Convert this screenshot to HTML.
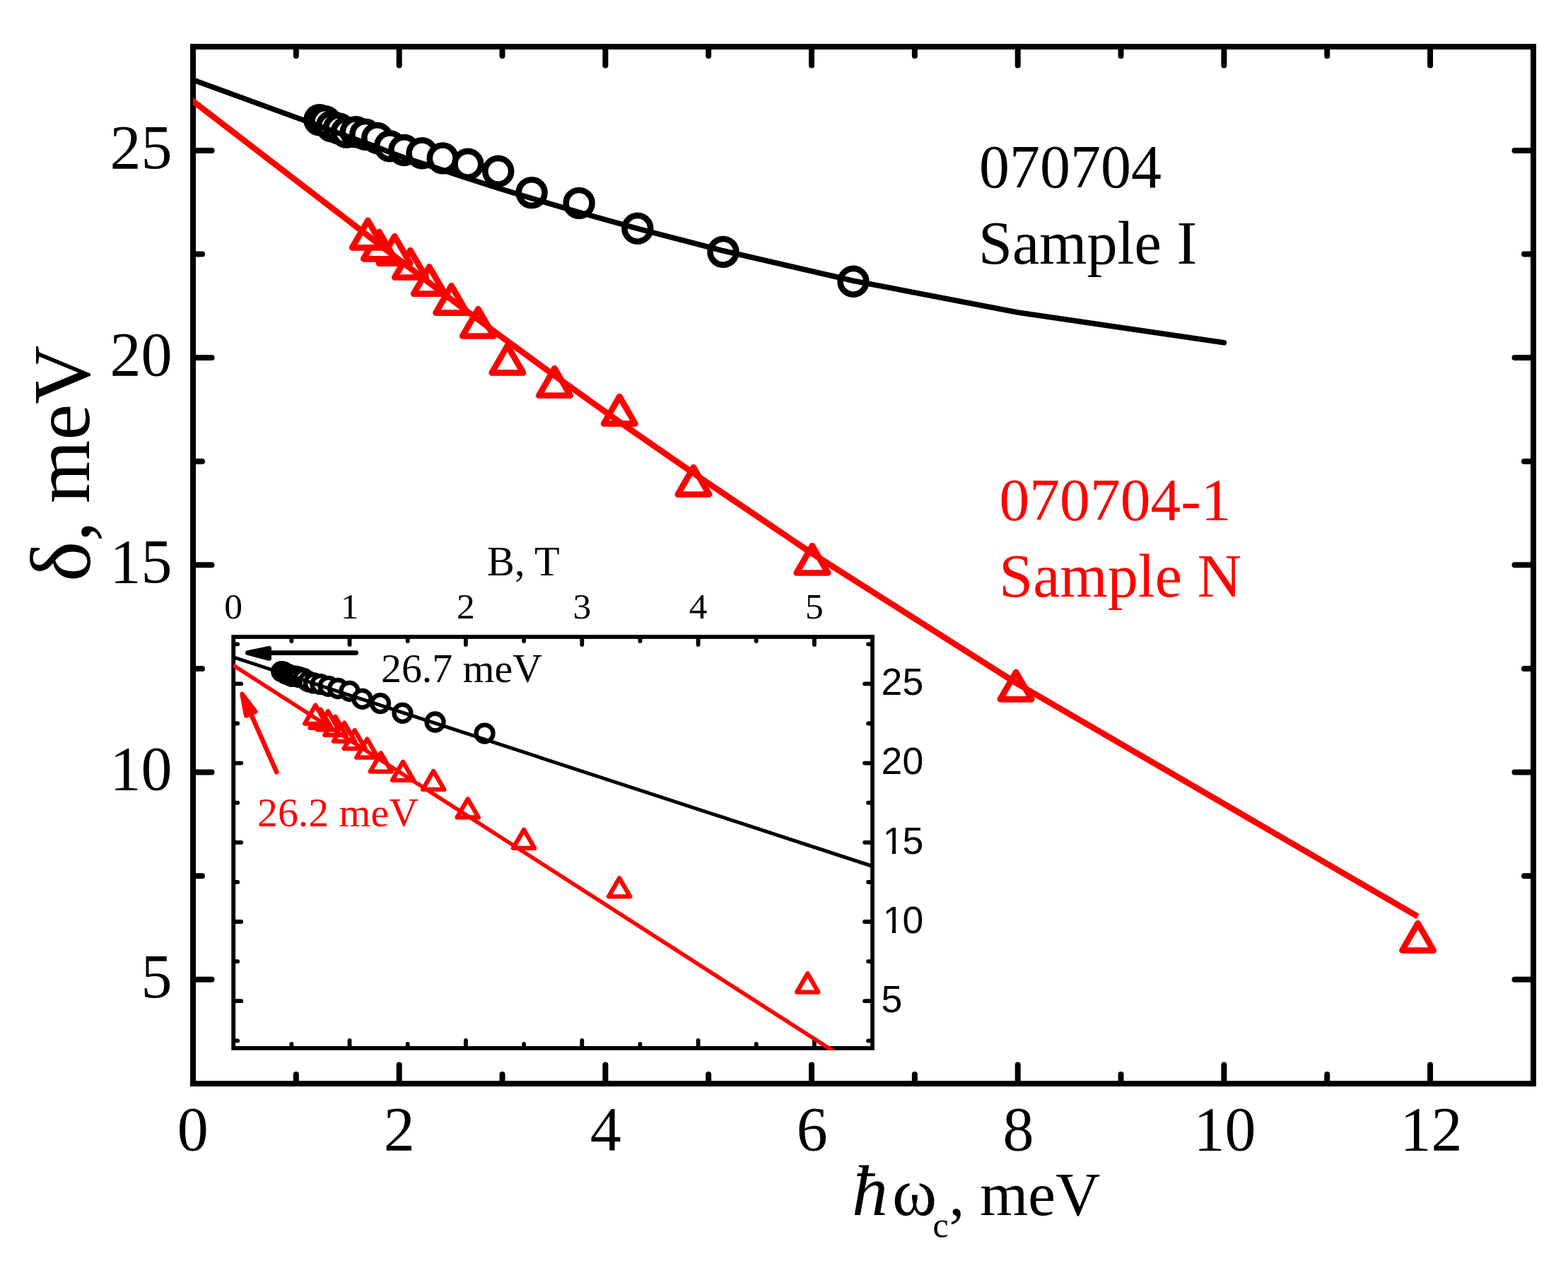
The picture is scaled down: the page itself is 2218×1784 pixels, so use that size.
<!DOCTYPE html>
<html lang="en"><head><meta charset="utf-8"><title>δ vs ħω_c</title>
<style>html,body{margin:0;padding:0;background:#fff;}body{width:2218px;height:1784px;overflow:hidden;}svg{display:block;}text{white-space:pre;}</style>
</head><body>
<svg xmlns="http://www.w3.org/2000/svg" width="2218" height="1784" viewBox="0 0 2218 1784">
<rect x="0" y="0" width="2218" height="1784" fill="#fff"/>
<g id="main-ticks">
<line x1="418.84" y1="1531.1" x2="418.84" y2="1520.1" stroke="#000" stroke-width="8" stroke-linecap="round"/>
<line x1="418.84" y1="68" x2="418.84" y2="79" stroke="#000" stroke-width="8" stroke-linecap="round"/>
<line x1="564.68" y1="1531.1" x2="564.68" y2="1506.6" stroke="#000" stroke-width="8" stroke-linecap="round"/>
<line x1="564.68" y1="68" x2="564.68" y2="92.5" stroke="#000" stroke-width="8" stroke-linecap="round"/>
<line x1="710.52" y1="1531.1" x2="710.52" y2="1520.1" stroke="#000" stroke-width="8" stroke-linecap="round"/>
<line x1="710.52" y1="68" x2="710.52" y2="79" stroke="#000" stroke-width="8" stroke-linecap="round"/>
<line x1="856.36" y1="1531.1" x2="856.36" y2="1506.6" stroke="#000" stroke-width="8" stroke-linecap="round"/>
<line x1="856.36" y1="68" x2="856.36" y2="92.5" stroke="#000" stroke-width="8" stroke-linecap="round"/>
<line x1="1002.2" y1="1531.1" x2="1002.2" y2="1520.1" stroke="#000" stroke-width="8" stroke-linecap="round"/>
<line x1="1002.2" y1="68" x2="1002.2" y2="79" stroke="#000" stroke-width="8" stroke-linecap="round"/>
<line x1="1148.04" y1="1531.1" x2="1148.04" y2="1506.6" stroke="#000" stroke-width="8" stroke-linecap="round"/>
<line x1="1148.04" y1="68" x2="1148.04" y2="92.5" stroke="#000" stroke-width="8" stroke-linecap="round"/>
<line x1="1293.88" y1="1531.1" x2="1293.88" y2="1520.1" stroke="#000" stroke-width="8" stroke-linecap="round"/>
<line x1="1293.88" y1="68" x2="1293.88" y2="79" stroke="#000" stroke-width="8" stroke-linecap="round"/>
<line x1="1439.72" y1="1531.1" x2="1439.72" y2="1506.6" stroke="#000" stroke-width="8" stroke-linecap="round"/>
<line x1="1439.72" y1="68" x2="1439.72" y2="92.5" stroke="#000" stroke-width="8" stroke-linecap="round"/>
<line x1="1585.56" y1="1531.1" x2="1585.56" y2="1520.1" stroke="#000" stroke-width="8" stroke-linecap="round"/>
<line x1="1585.56" y1="68" x2="1585.56" y2="79" stroke="#000" stroke-width="8" stroke-linecap="round"/>
<line x1="1731.4" y1="1531.1" x2="1731.4" y2="1506.6" stroke="#000" stroke-width="8" stroke-linecap="round"/>
<line x1="1731.4" y1="68" x2="1731.4" y2="92.5" stroke="#000" stroke-width="8" stroke-linecap="round"/>
<line x1="1877.24" y1="1531.1" x2="1877.24" y2="1520.1" stroke="#000" stroke-width="8" stroke-linecap="round"/>
<line x1="1877.24" y1="68" x2="1877.24" y2="79" stroke="#000" stroke-width="8" stroke-linecap="round"/>
<line x1="2023.08" y1="1531.1" x2="2023.08" y2="1506.6" stroke="#000" stroke-width="8" stroke-linecap="round"/>
<line x1="2023.08" y1="68" x2="2023.08" y2="92.5" stroke="#000" stroke-width="8" stroke-linecap="round"/>
<line x1="275" y1="1385.8" x2="299.5" y2="1385.8" stroke="#000" stroke-width="8" stroke-linecap="round"/>
<line x1="2167" y1="1385.8" x2="2142.5" y2="1385.8" stroke="#000" stroke-width="8" stroke-linecap="round"/>
<line x1="275" y1="1239.19" x2="286" y2="1239.19" stroke="#000" stroke-width="8" stroke-linecap="round"/>
<line x1="2167" y1="1239.19" x2="2156" y2="1239.19" stroke="#000" stroke-width="8" stroke-linecap="round"/>
<line x1="275" y1="1092.57" x2="299.5" y2="1092.57" stroke="#000" stroke-width="8" stroke-linecap="round"/>
<line x1="2167" y1="1092.57" x2="2142.5" y2="1092.57" stroke="#000" stroke-width="8" stroke-linecap="round"/>
<line x1="275" y1="945.96" x2="286" y2="945.96" stroke="#000" stroke-width="8" stroke-linecap="round"/>
<line x1="2167" y1="945.96" x2="2156" y2="945.96" stroke="#000" stroke-width="8" stroke-linecap="round"/>
<line x1="275" y1="799.35" x2="299.5" y2="799.35" stroke="#000" stroke-width="8" stroke-linecap="round"/>
<line x1="2167" y1="799.35" x2="2142.5" y2="799.35" stroke="#000" stroke-width="8" stroke-linecap="round"/>
<line x1="275" y1="652.74" x2="286" y2="652.74" stroke="#000" stroke-width="8" stroke-linecap="round"/>
<line x1="2167" y1="652.74" x2="2156" y2="652.74" stroke="#000" stroke-width="8" stroke-linecap="round"/>
<line x1="275" y1="506.12" x2="299.5" y2="506.12" stroke="#000" stroke-width="8" stroke-linecap="round"/>
<line x1="2167" y1="506.12" x2="2142.5" y2="506.12" stroke="#000" stroke-width="8" stroke-linecap="round"/>
<line x1="275" y1="359.51" x2="286" y2="359.51" stroke="#000" stroke-width="8" stroke-linecap="round"/>
<line x1="2167" y1="359.51" x2="2156" y2="359.51" stroke="#000" stroke-width="8" stroke-linecap="round"/>
<line x1="275" y1="212.9" x2="299.5" y2="212.9" stroke="#000" stroke-width="8" stroke-linecap="round"/>
<line x1="2167" y1="212.9" x2="2142.5" y2="212.9" stroke="#000" stroke-width="8" stroke-linecap="round"/>
</g>
<rect x="273" y="66" width="1896" height="1467.1" fill="none" stroke="#000" stroke-width="8"/>
<g id="main-data">
<circle cx="451.9" cy="169.7" r="18.4" fill="#fff" stroke="#000" stroke-width="8.6"/>
<circle cx="459.9" cy="171.6" r="18.4" fill="#fff" stroke="#000" stroke-width="8.6"/>
<circle cx="469.1" cy="178.8" r="18.4" fill="#fff" stroke="#000" stroke-width="8.6"/>
<circle cx="479.4" cy="181.9" r="18.4" fill="#fff" stroke="#000" stroke-width="8.6"/>
<circle cx="490.1" cy="187.1" r="18.4" fill="#fff" stroke="#000" stroke-width="8.6"/>
<circle cx="503.3" cy="186.8" r="18.4" fill="#fff" stroke="#000" stroke-width="8.6"/>
<circle cx="516.8" cy="190.3" r="18.4" fill="#fff" stroke="#000" stroke-width="8.6"/>
<circle cx="533.7" cy="195.5" r="18.4" fill="#fff" stroke="#000" stroke-width="8.6"/>
<circle cx="551.5" cy="206.8" r="18.4" fill="#fff" stroke="#000" stroke-width="8.6"/>
<circle cx="571.8" cy="212.5" r="18.4" fill="#fff" stroke="#000" stroke-width="8.6"/>
<circle cx="597" cy="216.8" r="18.4" fill="#fff" stroke="#000" stroke-width="8.6"/>
<circle cx="626.2" cy="223.9" r="18.4" fill="#fff" stroke="#000" stroke-width="8.6"/>
<circle cx="661.8" cy="232.3" r="18.4" fill="#fff" stroke="#000" stroke-width="8.6"/>
<circle cx="704.7" cy="242.3" r="18.4" fill="#fff" stroke="#000" stroke-width="8.6"/>
<circle cx="752.1" cy="272.6" r="18.4" fill="#fff" stroke="#000" stroke-width="8.6"/>
<circle cx="819.1" cy="287.4" r="18.4" fill="#fff" stroke="#000" stroke-width="8.6"/>
<circle cx="901.8" cy="323.3" r="18.4" fill="#fff" stroke="#000" stroke-width="8.6"/>
<circle cx="1023" cy="356.4" r="18.4" fill="#fff" stroke="#000" stroke-width="8.6"/>
<circle cx="1207" cy="398.3" r="18.4" fill="#fff" stroke="#000" stroke-width="8.6"/>
<polygon points="1983.45,1344.6 2027.75,1344.6 2005.6,1306.24" fill="#fff" stroke="#f00" stroke-width="8.7" stroke-linejoin="round"/>
<polygon points="1414.95,989.3 1459.25,989.3 1437.1,950.94" fill="#fff" stroke="#f00" stroke-width="8.7" stroke-linejoin="round"/>
<polygon points="1126.85,810.5 1171.15,810.5 1149,772.14" fill="#fff" stroke="#f00" stroke-width="8.7" stroke-linejoin="round"/>
<polygon points="958.85,699.5 1003.15,699.5 981,661.14" fill="#fff" stroke="#f00" stroke-width="8.7" stroke-linejoin="round"/>
<polygon points="854.15,599.4 898.45,599.4 876.3,561.04" fill="#fff" stroke="#f00" stroke-width="8.7" stroke-linejoin="round"/>
<polygon points="762.35,559.5 806.65,559.5 784.5,521.14" fill="#fff" stroke="#f00" stroke-width="8.7" stroke-linejoin="round"/>
<polygon points="695.75,527.4 740.05,527.4 717.9,489.04" fill="#fff" stroke="#f00" stroke-width="8.7" stroke-linejoin="round"/>
<polygon points="654.25,475.5 698.55,475.5 676.4,437.14" fill="#fff" stroke="#f00" stroke-width="8.7" stroke-linejoin="round"/>
<polygon points="616.45,442.6 660.75,442.6 638.6,404.24" fill="#fff" stroke="#f00" stroke-width="8.7" stroke-linejoin="round"/>
<polygon points="585.15,415.7 629.45,415.7 607.3,377.34" fill="#fff" stroke="#f00" stroke-width="8.7" stroke-linejoin="round"/>
<polygon points="558.35,392.5 602.65,392.5 580.5,354.14" fill="#fff" stroke="#f00" stroke-width="8.7" stroke-linejoin="round"/>
<polygon points="536.05,372.6 580.35,372.6 558.2,334.24" fill="#fff" stroke="#f00" stroke-width="8.7" stroke-linejoin="round"/>
<polygon points="514.25,366.3 558.55,366.3 536.4,327.94" fill="#fff" stroke="#f00" stroke-width="8.7" stroke-linejoin="round"/>
<polygon points="498.25,350.3 542.55,350.3 520.4,311.94" fill="#fff" stroke="#f00" stroke-width="8.7" stroke-linejoin="round"/>
<clipPath id="mc"><rect x="273" y="66" width="1896" height="1467.1"/></clipPath>
<g clip-path="url(#mc)">
<polyline points="261,108.65 273,113.03 451.9,178.28 459.9,181.28 469.1,184.7 479.4,188.52 490.1,192.46 503.3,197.28 516.8,202.18 533.7,208.26 551.5,215.46 571.8,223.08 597,231.15 626.2,240.62 661.8,252.38 704.7,266.16 752.1,280.65 819.1,300.32 901.8,323.39 1023,354.81 1207,397.22 1439.72,442.02 1731.4,484.8" fill="none" stroke="#000" stroke-width="7.6" stroke-linecap="round" stroke-linejoin="round" />
<polyline points="261,133.84 273,143.08 520.4,333.48 536.4,345.87 558.2,362.66 580.5,379.74 607.3,400.13 638.6,423.77 676.4,452.06 717.9,482.78 784.5,531.34 876.3,596.96 981,669.6 1149,783.11 1437.1,966.16 2005.6,1296.69" fill="none" stroke="#f00" stroke-width="8.5" stroke-linecap="butt" stroke-linejoin="round" />
</g>
</g>
<g id="main-labels">
<text x="272.7" y="1627.2" font-size="88" text-anchor="middle" fill="#000" font-family="&quot;Liberation Serif&quot;, serif" >0</text>
<text x="564.68" y="1627.2" font-size="88" text-anchor="middle" fill="#000" font-family="&quot;Liberation Serif&quot;, serif" >2</text>
<text x="856.66" y="1627.2" font-size="88" text-anchor="middle" fill="#000" font-family="&quot;Liberation Serif&quot;, serif" >4</text>
<text x="1148.64" y="1627.2" font-size="88" text-anchor="middle" fill="#000" font-family="&quot;Liberation Serif&quot;, serif" >6</text>
<text x="1440.62" y="1627.2" font-size="88" text-anchor="middle" fill="#000" font-family="&quot;Liberation Serif&quot;, serif" >8</text>
<text x="1732.6" y="1627.2" font-size="88" text-anchor="middle" fill="#000" font-family="&quot;Liberation Serif&quot;, serif" >10</text>
<text x="2024.58" y="1627.2" font-size="88" text-anchor="middle" fill="#000" font-family="&quot;Liberation Serif&quot;, serif" >12</text>
<text x="243.5" y="1410.6" font-size="88" text-anchor="end" fill="#000" font-family="&quot;Liberation Serif&quot;, serif" >5</text>
<text x="243.5" y="1117.37" font-size="88" text-anchor="end" fill="#000" font-family="&quot;Liberation Serif&quot;, serif" >10</text>
<text x="243.5" y="824.15" font-size="88" text-anchor="end" fill="#000" font-family="&quot;Liberation Serif&quot;, serif" >15</text>
<text x="243.5" y="530.92" font-size="88" text-anchor="end" fill="#000" font-family="&quot;Liberation Serif&quot;, serif" >20</text>
<text x="243.5" y="237.7" font-size="88" text-anchor="end" fill="#000" font-family="&quot;Liberation Serif&quot;, serif" >25</text>
</g>
<g id="ytitle" fill="#000" font-family="&quot;Liberation Serif&quot;, serif">
<text transform="translate(126.5,823) rotate(-90)" font-size="121.6">δ</text>
<text transform="translate(126.5,766) rotate(-90)" font-size="115">,</text>
<text transform="translate(126.0,712.3) rotate(-90)" font-size="115">meV</text>
</g>
<text x="1205" y="1719.4" font-size="87.5" fill="#000" font-family="&quot;Liberation Serif&quot;, serif"><tspan font-style="italic" font-size="102">ħ</tspan><tspan x="1262" font-size="96">ω</tspan><tspan font-size="50" dy="31" x="1319.5">c</tspan><tspan dy="-31" x="1342.5" font-size="87.5">, meV</tspan></text>
<text x="1385" y="265.4" font-size="86" text-anchor="start" fill="#000" font-family="&quot;Liberation Serif&quot;, serif" >070704</text>
<text x="1384" y="373.4" font-size="86.3" text-anchor="start" fill="#000" font-family="&quot;Liberation Serif&quot;, serif" >Sample I</text>
<text x="1413.5" y="736.1" font-size="85.6" text-anchor="start" fill="#f00" font-family="&quot;Liberation Serif&quot;, serif" >070704-1</text>
<text x="1413.3" y="844.1" font-size="86.3" text-anchor="start" fill="#f00" font-family="&quot;Liberation Serif&quot;, serif" >Sample N</text>
<g id="inset">
<g id="inset-ticks">
<line x1="412.38" y1="902.5" x2="412.38" y2="907" stroke="#000" stroke-width="5.8" stroke-linecap="round"/>
<line x1="412.38" y1="1481.4" x2="412.38" y2="1476.9" stroke="#000" stroke-width="5.8" stroke-linecap="round"/>
<line x1="494.55" y1="902.5" x2="494.55" y2="912" stroke="#000" stroke-width="5.8" stroke-linecap="round"/>
<line x1="494.55" y1="1481.4" x2="494.55" y2="1471.9" stroke="#000" stroke-width="5.8" stroke-linecap="round"/>
<line x1="576.72" y1="902.5" x2="576.72" y2="907" stroke="#000" stroke-width="5.8" stroke-linecap="round"/>
<line x1="576.72" y1="1481.4" x2="576.72" y2="1476.9" stroke="#000" stroke-width="5.8" stroke-linecap="round"/>
<line x1="658.9" y1="902.5" x2="658.9" y2="912" stroke="#000" stroke-width="5.8" stroke-linecap="round"/>
<line x1="658.9" y1="1481.4" x2="658.9" y2="1471.9" stroke="#000" stroke-width="5.8" stroke-linecap="round"/>
<line x1="741.08" y1="902.5" x2="741.08" y2="907" stroke="#000" stroke-width="5.8" stroke-linecap="round"/>
<line x1="741.08" y1="1481.4" x2="741.08" y2="1476.9" stroke="#000" stroke-width="5.8" stroke-linecap="round"/>
<line x1="823.25" y1="902.5" x2="823.25" y2="912" stroke="#000" stroke-width="5.8" stroke-linecap="round"/>
<line x1="823.25" y1="1481.4" x2="823.25" y2="1471.9" stroke="#000" stroke-width="5.8" stroke-linecap="round"/>
<line x1="905.42" y1="902.5" x2="905.42" y2="907" stroke="#000" stroke-width="5.8" stroke-linecap="round"/>
<line x1="905.42" y1="1481.4" x2="905.42" y2="1476.9" stroke="#000" stroke-width="5.8" stroke-linecap="round"/>
<line x1="987.6" y1="902.5" x2="987.6" y2="912" stroke="#000" stroke-width="5.8" stroke-linecap="round"/>
<line x1="987.6" y1="1481.4" x2="987.6" y2="1471.9" stroke="#000" stroke-width="5.8" stroke-linecap="round"/>
<line x1="1069.77" y1="902.5" x2="1069.77" y2="907" stroke="#000" stroke-width="5.8" stroke-linecap="round"/>
<line x1="1069.77" y1="1481.4" x2="1069.77" y2="1476.9" stroke="#000" stroke-width="5.8" stroke-linecap="round"/>
<line x1="1151.95" y1="902.5" x2="1151.95" y2="912" stroke="#000" stroke-width="5.8" stroke-linecap="round"/>
<line x1="1151.95" y1="1481.4" x2="1151.95" y2="1471.9" stroke="#000" stroke-width="5.8" stroke-linecap="round"/>
<line x1="331.7" y1="1472.3" x2="336.2" y2="1472.3" stroke="#000" stroke-width="5.8" stroke-linecap="round"/>
<line x1="1232.6" y1="1472.3" x2="1228.1" y2="1472.3" stroke="#000" stroke-width="5.8" stroke-linecap="round"/>
<line x1="331.7" y1="1416.2" x2="341.2" y2="1416.2" stroke="#000" stroke-width="5.8" stroke-linecap="round"/>
<line x1="1232.6" y1="1416.2" x2="1223.1" y2="1416.2" stroke="#000" stroke-width="5.8" stroke-linecap="round"/>
<line x1="331.7" y1="1360.1" x2="336.2" y2="1360.1" stroke="#000" stroke-width="5.8" stroke-linecap="round"/>
<line x1="1232.6" y1="1360.1" x2="1228.1" y2="1360.1" stroke="#000" stroke-width="5.8" stroke-linecap="round"/>
<line x1="331.7" y1="1304" x2="341.2" y2="1304" stroke="#000" stroke-width="5.8" stroke-linecap="round"/>
<line x1="1232.6" y1="1304" x2="1223.1" y2="1304" stroke="#000" stroke-width="5.8" stroke-linecap="round"/>
<line x1="331.7" y1="1247.9" x2="336.2" y2="1247.9" stroke="#000" stroke-width="5.8" stroke-linecap="round"/>
<line x1="1232.6" y1="1247.9" x2="1228.1" y2="1247.9" stroke="#000" stroke-width="5.8" stroke-linecap="round"/>
<line x1="331.7" y1="1191.8" x2="341.2" y2="1191.8" stroke="#000" stroke-width="5.8" stroke-linecap="round"/>
<line x1="1232.6" y1="1191.8" x2="1223.1" y2="1191.8" stroke="#000" stroke-width="5.8" stroke-linecap="round"/>
<line x1="331.7" y1="1135.7" x2="336.2" y2="1135.7" stroke="#000" stroke-width="5.8" stroke-linecap="round"/>
<line x1="1232.6" y1="1135.7" x2="1228.1" y2="1135.7" stroke="#000" stroke-width="5.8" stroke-linecap="round"/>
<line x1="331.7" y1="1079.6" x2="341.2" y2="1079.6" stroke="#000" stroke-width="5.8" stroke-linecap="round"/>
<line x1="1232.6" y1="1079.6" x2="1223.1" y2="1079.6" stroke="#000" stroke-width="5.8" stroke-linecap="round"/>
<line x1="331.7" y1="1023.5" x2="336.2" y2="1023.5" stroke="#000" stroke-width="5.8" stroke-linecap="round"/>
<line x1="1232.6" y1="1023.5" x2="1228.1" y2="1023.5" stroke="#000" stroke-width="5.8" stroke-linecap="round"/>
<line x1="331.7" y1="967.4" x2="341.2" y2="967.4" stroke="#000" stroke-width="5.8" stroke-linecap="round"/>
<line x1="1232.6" y1="967.4" x2="1223.1" y2="967.4" stroke="#000" stroke-width="5.8" stroke-linecap="round"/>
<line x1="331.7" y1="911.3" x2="336.2" y2="911.3" stroke="#000" stroke-width="5.8" stroke-linecap="round"/>
<line x1="1232.6" y1="911.3" x2="1228.1" y2="911.3" stroke="#000" stroke-width="5.8" stroke-linecap="round"/>
</g>
<rect x="330.2" y="901" width="903.9" height="581.9" fill="none" stroke="#000" stroke-width="5.8"/>
<clipPath id="ic"><rect x="330.2" y="901" width="903.9" height="584.8"/></clipPath>
<g clip-path="url(#ic)">
<circle cx="398.26" cy="950.07" r="12" fill="#fff" stroke="#000" stroke-width="6.3"/>
<circle cx="401.31" cy="950.8" r="12" fill="#fff" stroke="#000" stroke-width="6.3"/>
<circle cx="404.81" cy="953.55" r="12" fill="#fff" stroke="#000" stroke-width="6.3"/>
<circle cx="408.73" cy="954.74" r="12" fill="#fff" stroke="#000" stroke-width="6.3"/>
<circle cx="412.8" cy="956.73" r="12" fill="#fff" stroke="#000" stroke-width="6.3"/>
<circle cx="417.82" cy="956.61" r="12" fill="#fff" stroke="#000" stroke-width="6.3"/>
<circle cx="422.96" cy="957.95" r="12" fill="#fff" stroke="#000" stroke-width="6.3"/>
<circle cx="429.39" cy="959.94" r="12" fill="#fff" stroke="#000" stroke-width="6.3"/>
<circle cx="436.16" cy="964.27" r="12" fill="#fff" stroke="#000" stroke-width="6.3"/>
<circle cx="443.88" cy="966.45" r="12" fill="#fff" stroke="#000" stroke-width="6.3"/>
<circle cx="453.47" cy="968.09" r="12" fill="#fff" stroke="#000" stroke-width="6.3"/>
<circle cx="464.58" cy="970.81" r="12" fill="#fff" stroke="#000" stroke-width="6.3"/>
<circle cx="478.12" cy="974.02" r="12" fill="#fff" stroke="#000" stroke-width="6.3"/>
<circle cx="494.44" cy="977.85" r="12" fill="#fff" stroke="#000" stroke-width="6.3"/>
<circle cx="512.48" cy="988.84" r="12" fill="#fff" stroke="#000" stroke-width="6.3"/>
<circle cx="537.97" cy="995.11" r="12" fill="#fff" stroke="#000" stroke-width="6.3"/>
<circle cx="569.43" cy="1008.84" r="12" fill="#fff" stroke="#000" stroke-width="6.3"/>
<circle cx="615.54" cy="1021.51" r="12" fill="#fff" stroke="#000" stroke-width="6.3"/>
<circle cx="685.55" cy="1037.54" r="12" fill="#fff" stroke="#000" stroke-width="6.3"/>
<polygon points="1127.23,1403.56 1157.43,1403.56 1142.33,1377.41" fill="#fff" stroke="#f00" stroke-width="6.3" stroke-linejoin="round"/>
<polygon points="861.02,1268.31 891.22,1268.31 876.12,1242.15" fill="#fff" stroke="#f00" stroke-width="6.3" stroke-linejoin="round"/>
<polygon points="725.91,1199.89 756.11,1199.89 741.01,1173.74" fill="#fff" stroke="#f00" stroke-width="6.3" stroke-linejoin="round"/>
<polygon points="646.63,1156.42 676.83,1156.42 661.73,1130.26" fill="#fff" stroke="#f00" stroke-width="6.3" stroke-linejoin="round"/>
<polygon points="598.03,1116.92 628.23,1116.92 613.13,1090.76" fill="#fff" stroke="#f00" stroke-width="6.3" stroke-linejoin="round"/>
<polygon points="554.97,1103.85 585.17,1103.85 570.07,1077.69" fill="#fff" stroke="#f00" stroke-width="6.3" stroke-linejoin="round"/>
<polygon points="523.74,1091.57 553.94,1091.57 538.84,1065.41" fill="#fff" stroke="#f00" stroke-width="6.3" stroke-linejoin="round"/>
<polygon points="504.28,1071.71 534.48,1071.71 519.38,1045.55" fill="#fff" stroke="#f00" stroke-width="6.3" stroke-linejoin="round"/>
<polygon points="486.55,1059.12 516.75,1059.12 501.65,1032.96" fill="#fff" stroke="#f00" stroke-width="6.3" stroke-linejoin="round"/>
<polygon points="471.87,1048.82 502.07,1048.82 486.97,1022.67" fill="#fff" stroke="#f00" stroke-width="6.3" stroke-linejoin="round"/>
<polygon points="459.31,1039.95 489.51,1039.95 474.41,1013.79" fill="#fff" stroke="#f00" stroke-width="6.3" stroke-linejoin="round"/>
<polygon points="448.85,1032.33 479.05,1032.33 463.95,1006.18" fill="#fff" stroke="#f00" stroke-width="6.3" stroke-linejoin="round"/>
<polygon points="438.63,1029.92 468.83,1029.92 453.73,1003.77" fill="#fff" stroke="#f00" stroke-width="6.3" stroke-linejoin="round"/>
<polygon points="431.12,1023.8 461.32,1023.8 446.22,997.65" fill="#fff" stroke="#f00" stroke-width="6.3" stroke-linejoin="round"/>
<polyline points="320,926.46 330.2,929.8 1234.1,1225.5" fill="none" stroke="#000" stroke-width="5" stroke-linecap="butt" stroke-linejoin="round" />
<polyline points="320,934.74 330.2,941.3 1172.4,1482.9 1185,1491" fill="none" stroke="#f00" stroke-width="5.6" stroke-linecap="butt" stroke-linejoin="round" />
</g>
<text x="330.2" y="875.4" font-size="51.5" text-anchor="middle" fill="#000" font-family="&quot;Liberation Serif&quot;, serif" >0</text>
<text x="494.55" y="875.4" font-size="51.5" text-anchor="middle" fill="#000" font-family="&quot;Liberation Serif&quot;, serif" >1</text>
<text x="658.9" y="875.4" font-size="51.5" text-anchor="middle" fill="#000" font-family="&quot;Liberation Serif&quot;, serif" >2</text>
<text x="823.25" y="875.4" font-size="51.5" text-anchor="middle" fill="#000" font-family="&quot;Liberation Serif&quot;, serif" >3</text>
<text x="987.6" y="875.4" font-size="51.5" text-anchor="middle" fill="#000" font-family="&quot;Liberation Serif&quot;, serif" >4</text>
<text x="1151.95" y="875.4" font-size="51.5" text-anchor="middle" fill="#000" font-family="&quot;Liberation Serif&quot;, serif" >5</text>
<text x="689" y="813.7" font-size="58.3" text-anchor="start" fill="#000" font-family="&quot;Liberation Serif&quot;, serif" >B, T</text>
<text x="1246.6" y="1431.9" font-size="53.6" text-anchor="start" fill="#000" font-family="&quot;Liberation Sans&quot;, sans-serif" >5</text>
<text x="1246.6" y="1095.3" font-size="53.6" text-anchor="start" fill="#000" font-family="&quot;Liberation Sans&quot;, sans-serif" >20</text>
<text x="1246.6" y="983.1" font-size="53.6" text-anchor="start" fill="#000" font-family="&quot;Liberation Sans&quot;, sans-serif" >25</text>
<clipPath id="c1_10"><path d="M1246.7,1274.7 H1280.7 V1315.4 H1267.17 V1320.7 H1261.93 V1315.4 H1246.7 Z"/></clipPath>
<g clip-path="url(#c1_10)">
<text x="1248.7" y="1319.7" font-size="53.6" text-anchor="start" fill="#000" font-family="&quot;Liberation Sans&quot;, sans-serif" >1</text>
</g>
<text x="1276.41" y="1319.7" font-size="53.6" text-anchor="start" fill="#000" font-family="&quot;Liberation Sans&quot;, sans-serif" >0</text>
<clipPath id="c1_15"><path d="M1246.7,1162.5 H1280.7 V1203.2 H1267.17 V1208.5 H1261.93 V1203.2 H1246.7 Z"/></clipPath>
<g clip-path="url(#c1_15)">
<text x="1248.7" y="1207.5" font-size="53.6" text-anchor="start" fill="#000" font-family="&quot;Liberation Sans&quot;, sans-serif" >1</text>
</g>
<text x="1276.41" y="1207.5" font-size="53.6" text-anchor="start" fill="#000" font-family="&quot;Liberation Sans&quot;, sans-serif" >5</text>
<line x1="384" y1="923.6" x2="503.6" y2="923.6" stroke="#000" stroke-width="6.6" stroke-linecap="round"/>
<polygon points="350.3,923.6 380.7,917.2 380.7,931.5" fill="#000" stroke="#000" stroke-width="6.6" stroke-linejoin="round"/>
<text x="539" y="965" font-size="57.8" text-anchor="start" fill="#000" font-family="&quot;Liberation Serif&quot;, serif" >26.7 meV</text>
<line x1="353.32" y1="1006.34" x2="391.3" y2="1092.3" stroke="#f00" stroke-width="6.6" stroke-linecap="round"/>
<polygon points="342.53,981.92 348.15,1012.45 361.32,1006.63" fill="#f00" stroke="#f00" stroke-width="6.6" stroke-linejoin="round"/>
<text x="364" y="1168.6" font-size="57.8" text-anchor="start" fill="#f00" font-family="&quot;Liberation Serif&quot;, serif" >26.2 meV</text>
</g>
</svg>
</body></html>
